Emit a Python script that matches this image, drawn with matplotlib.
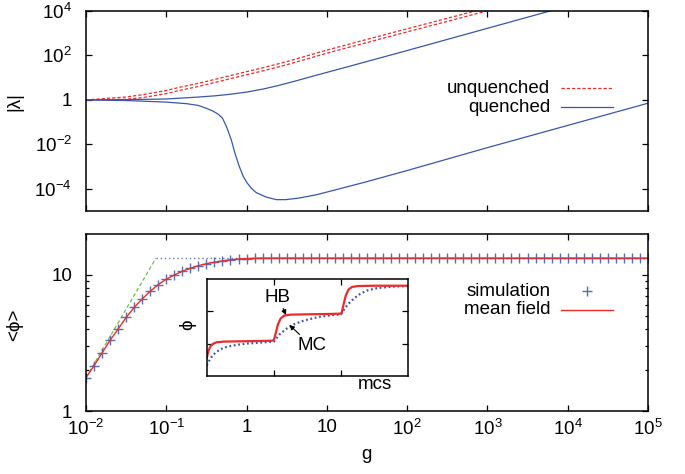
import numpy as np
import matplotlib
matplotlib.use('Agg')
import matplotlib.pyplot as plt
from matplotlib.ticker import FixedLocator, FixedFormatter, NullLocator

plt.rcParams['font.family'] = ['Liberation Sans', 'DejaVu Sans']
plt.rcParams['mathtext.default'] = 'regular'
plt.rcParams['font.size'] = 13.5

RED = '#ee2a2a'
BLUE = '#3a56ac'
GREEN = '#6cc04a'

# --- eigenvalues |lambda| vs g (top panel) ---
g_unq = [0.01, 0.0316, 0.0501, 0.1, 0.148, 0.234, 0.316, 1, 1.622, 3.162, 10, 19.5,
         100, 316, 1000]
unq_hi = [1, 1.349, 1.698, 2.630, 3.715, 5.248, 6.761, 18.62, 28.18, 52.48, 173.8, 331.1,
          1585, 4677, 14125]
unq_lo = [1, 1.072, 1.259, 1.905, 2.692, 3.802, 4.898, 13.49, 20.42, 38.02, 125.9, 239.9,
          1148, 3388, 10233]
g_up = [0.01, 0.0316, 0.1, 0.234, 0.398, 0.617, 1, 1.622, 2.512, 3.981, 6.761, 19.5,
        100, 1000, 10000]
q_upper = [1, 1.023, 1.096, 1.318, 1.514, 1.778, 2.239, 3.090, 4.467, 6.918, 11.75, 33.11,
           166, 1660, 16600]
g_low = [0.01, 0.0316, 0.1, 0.178, 0.251, 0.316, 0.380, 0.447, 0.501, 0.562, 0.646,
         0.724, 0.813, 0.912, 1.023, 1.148, 1.318, 1.738, 2.344, 3.09, 4.467, 7.41,
         14.45, 31.6, 100, 1000, 1e4, 1e5]
q_lower = [1, 0.933, 0.794, 0.676, 0.562, 0.417, 0.316, 0.224, 0.151, 0.0631, 0.0158,
           0.00355, 0.001, 3.55e-4, 1.78e-4, 1.05e-4, 6.76e-5, 4.27e-5, 3.24e-5, 3.24e-5,
           3.80e-5, 5.37e-5, 1.0e-4, 2.09e-4, 6.61e-4, 7.08e-3, 0.0708, 0.708]

# --- <phi> vs g (bottom panel), one point every tenth of a decade ---
g_sim = np.logspace(-2, 5, 71)
phi_sim = [1.76, 2.15, 2.67, 3.31, 4.0, 4.87, 5.77, 6.66, 7.58, 8.5,
           9.3, 10.0, 10.65, 11.2, 11.7, 12.1, 12.4, 12.7, 12.95, 13.1,
           13.2, 13.25, 13.3, 13.3, 13.3, 13.3, 13.3, 13.3, 13.3, 13.3,
           13.3, 13.3, 13.3, 13.3, 13.3, 13.3, 13.3, 13.3, 13.3, 13.3,
           13.3, 13.3, 13.3, 13.3, 13.3, 13.3, 13.3, 13.3, 13.3, 13.3,
           13.3, 13.3, 13.3, 13.3, 13.3, 13.3, 13.3, 13.3, 13.3, 13.3,
           13.3, 13.3, 13.3, 13.3, 13.3, 13.3, 13.3, 13.3, 13.3, 13.3,
           13.3]
phi_mf = list(phi_sim)
g_lin = [0.01, 0.0745]
phi_lin = [1.76, 13.3]
g_sat = [0.0745, 1e5]
phi_sat = [13.3, 13.3]

# --- inset: phi vs mcs ---
t_hb = [0.0, 0.03, 0.06, 0.10, 0.15, 0.25, 0.50, 0.80, 0.98, 1.00, 1.03, 1.06, 1.10,
        1.15, 1.25, 1.50, 1.80, 1.99, 2.01, 2.04, 2.07, 2.11, 2.16, 2.25, 2.50, 3.00]
phi_hb = [0.55, 0.80, 0.93, 1.00, 1.04, 1.06, 1.07, 1.08, 1.09, 1.12, 1.35, 1.60, 1.78,
          1.87, 1.90, 1.91, 1.92, 1.93, 1.97, 2.25, 2.50, 2.68, 2.76, 2.79, 2.80, 2.80]
t_mc = [0.0, 0.05, 0.10, 0.20, 0.30, 0.45, 0.60, 0.80, 1.00, 1.05, 1.10, 1.20, 1.30,
        1.45, 1.65, 1.85, 2.00, 2.05, 2.10, 2.20, 2.30, 2.40, 2.55, 2.75, 3.00]
phi_mc = [0.32, 0.52, 0.66, 0.82, 0.90, 0.96, 1.00, 1.03, 1.06, 1.20, 1.32, 1.48, 1.60,
          1.72, 1.82, 1.88, 1.91, 2.08, 2.22, 2.42, 2.57, 2.66, 2.73, 2.77, 2.79]

x_ticks = [1e-2, 1e-1, 1, 10, 1e2, 1e3, 1e4, 1e5]
x_labels = ['$10^{-2}$', '$10^{-1}$', '1', '10', '$10^{2}$', '$10^{3}$', '$10^{4}$', '$10^{5}$']
lam_ticks = [1e-4, 1e-2, 1, 1e2, 1e4]
lam_labels = ['$10^{-4}$', '$10^{-2}$', '1', '$10^{2}$', '$10^{4}$']

DASH = (0, (2.6, 1.6))


def style(ax):
    ax.tick_params(which='both', direction='in', top=True, right=True, width=0.9)
    ax.tick_params(which='major', length=4.5, pad=6)
    ax.tick_params(which='minor', length=2.5)
    for s in ax.spines.values():
        s.set_linewidth(1.1)


fig = plt.figure(figsize=(6.85, 4.74), dpi=100)
ax1 = fig.add_axes([0.1255, 0.5549, 0.8204, 0.4219])
ax2 = fig.add_axes([0.1255, 0.1329, 0.8204, 0.3734])

# top panel
for lam in (unq_hi, unq_lo):
    ax1.plot(g_unq, lam, color=RED, lw=0.9, ls=DASH)
ax1.plot(g_up, q_upper, color=BLUE, lw=0.9)
ax1.plot(g_low, q_lower, color=BLUE, lw=0.9)
ax1.set_xscale('log')
ax1.set_yscale('log')
ax1.set_xlim(1e-2, 1e5)
ax1.set_ylim(1e-5, 1e4)
ax1.xaxis.set_major_locator(FixedLocator(x_ticks))
ax1.xaxis.set_major_formatter(FixedFormatter([''] * len(x_ticks)))
ax1.xaxis.set_minor_locator(NullLocator())
ax1.yaxis.set_major_locator(FixedLocator(lam_ticks))
ax1.yaxis.set_major_formatter(FixedFormatter(lam_labels))
ax1.yaxis.set_minor_locator(NullLocator())
style(ax1)
ax1.tick_params(axis='y', pad=10)
ax1.set_ylabel('|λ|')
ax1.yaxis.set_label_coords(-0.112, 0.545)

# key, text right-aligned with the sample to its right
ax1.text(0.826, 0.6135, 'unquenched', transform=ax1.transAxes, ha='right', va='center')
ax1.plot([0.846, 0.938], [0.6135, 0.6135], transform=ax1.transAxes, color=RED, lw=0.9,
         ls=DASH)
ax1.text(0.826, 0.5185, 'quenched', transform=ax1.transAxes, ha='right', va='center')
ax1.plot([0.846, 0.938], [0.5185, 0.5185], transform=ax1.transAxes, color=BLUE, lw=0.9)

# bottom panel
ax2.plot(g_lin, phi_lin, color=GREEN, lw=0.9, ls=(0, (3, 2)))
ax2.plot(g_sat, phi_sat, color=BLUE, lw=1.0, ls=(0, (1, 2)), alpha=0.8)
ax2.plot(g_sim, phi_sim, ls='none', marker='+', ms=7, mew=1.0, color=BLUE, alpha=0.85)
ax2.plot(g_sim, phi_mf, color=RED, lw=1.0)
ax2.set_xscale('log')
ax2.set_yscale('log')
ax2.set_xlim(1e-2, 1e5)
ax2.set_ylim(1, 20)
ax2.xaxis.set_major_locator(FixedLocator(x_ticks))
ax2.xaxis.set_major_formatter(FixedFormatter(x_labels))
ax2.xaxis.set_minor_locator(NullLocator())
ax2.yaxis.set_major_locator(FixedLocator([1, 10]))
ax2.yaxis.set_major_formatter(FixedFormatter(['1', '10']))
ax2.yaxis.set_minor_locator(FixedLocator([2, 3, 4, 5, 6, 7, 8, 9]))
ax2.yaxis.set_minor_formatter(FixedFormatter([''] * 8))
style(ax2)
ax2.tick_params(axis='y', pad=10)
ax2.set_ylabel('<ϕ>')
ax2.yaxis.set_label_coords(-0.112, 0.486)
ax2.set_xlabel('g')
ax2.xaxis.set_label_coords(0.4995, -0.20)

ax2.text(0.826, 0.678, 'simulation', transform=ax2.transAxes, ha='right', va='center')
ax2.plot([0.891], [0.678], transform=ax2.transAxes, ls='none', marker='+', ms=7, mew=1.0,
         color=BLUE, alpha=0.85)
ax2.text(0.826, 0.571, 'mean field', transform=ax2.transAxes, ha='right', va='center')
ax2.plot([0.846, 0.938], [0.571, 0.571], transform=ax2.transAxes, color=RED, lw=1.0)

# inset
axi = fig.add_axes([0.3018, 0.2074, 0.2943, 0.2034])
axi.set_facecolor('white')
axi.plot(t_mc, phi_mc, color=BLUE, lw=1.6, ls=(0, (0.8, 1.2)))
axi.plot(t_hb, phi_hb, color=RED, lw=1.6)
axi.set_xlim(0, 3)
axi.set_ylim(0, 3)
axi.set_xticks([1, 2])
axi.set_yticks([1, 2])
axi.set_xticklabels([])
axi.set_yticklabels([])
style(axi)
axi.text(-0.093, 0.526, 'ϕ', transform=axi.transAxes, rotation=90, ha='center', va='center')
axi.text(0.835, -0.096, 'mcs', transform=axi.transAxes, ha='center', va='center')
arrow = dict(arrowstyle='-|>', lw=0.8, color='k', mutation_scale=7, shrinkA=0, shrinkB=0)
axi.annotate('HB', xy=(1.18, 1.89), xytext=(1.06, 2.44), ha='center', va='center',
             arrowprops=arrow)
axi.annotate('MC', xy=(1.23, 1.58), xytext=(1.56, 0.93), ha='center', va='center',
             arrowprops=arrow)

fig.savefig('out.png', dpi=100)
